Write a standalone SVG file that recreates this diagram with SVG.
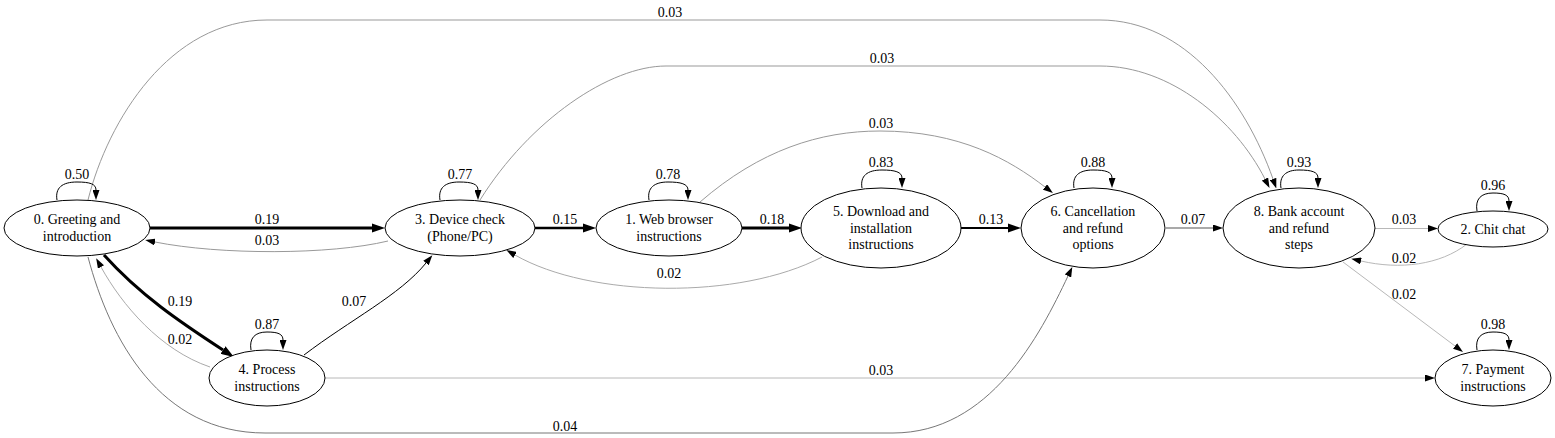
<svg xmlns="http://www.w3.org/2000/svg" width="1555" height="438" viewBox="0 0 1555 438">
<style>
text{font-family:"Liberation Serif","Times New Roman",serif;font-size:14px;fill:#000;text-anchor:middle}
.n ellipse{fill:#fff;stroke:#000;stroke-width:1}
.e{fill:none;stroke:#000;stroke-width:1;marker-end:url(#a)}
.t{marker-end:url(#ab)}
.w19{stroke-width:3}
.w18{stroke-width:2.8}
.w15{stroke-width:2.5}
.w13{stroke-width:2.2}
.g7{stroke:#555;stroke-width:1.2}
.g4{stroke:#777}
.g3{stroke:#999}
.g2{stroke:#aaa}
.l3{stroke:#b8b8b8}
</style>
<defs>
<marker id="a" markerUnits="userSpaceOnUse" viewBox="0 0 10 7" markerWidth="10" markerHeight="7" refX="0" refY="3.5" orient="auto"><path d="M0,0L10,3.5L0,7z" fill="#000"/></marker>
<marker id="ab" markerUnits="userSpaceOnUse" viewBox="0 0 10 7" markerWidth="13" markerHeight="9.1" refX="0" refY="3.5" orient="auto"><path d="M0,0L10,3.5L0,7z" fill="#000"/></marker>
</defs>
<rect width="1555" height="438" fill="#fff"/>
<g id="connectors">
<path class="e g3" d="M88,200 C108,120 170,20 267,20 L1100,20 C1185,20 1245,100 1273,179"/>
<text x="670" y="17">0.03</text>
<path class="e g3" d="M480,200 C530,120 610,66 666,66 L1100,66 C1170,66 1235,120 1265,179"/>
<text x="882" y="63">0.03</text>
<path class="e g3" d="M700,202 C760,150 820,131 880,131 C960,131 1010,160 1045,187"/>
<text x="881" y="128">0.03</text>
<path class="e t w19" d="M150,228 L372,228"/>
<text x="267" y="224">0.19</text>
<path class="e g3" d="M388,241 C330,255 220,255 155,242"/>
<text x="267" y="245">0.03</text>
<path class="e t w15" d="M534,228 L583,228"/>
<text x="565" y="224">0.15</text>
<path class="e t w18" d="M742,228 L789,228"/>
<text x="772" y="224">0.18</text>
<path class="e t w13" d="M961,228 L1008,228"/>
<text x="991" y="224">0.13</text>
<path class="e g7" d="M1166,228 L1213,228"/>
<text x="1193" y="224">0.07</text>
<path class="e l3" d="M1375,228.5 L1428,228.5"/>
<text x="1404" y="224">0.03</text>
<path class="e l3" d="M1467,244 C1440,265 1400,270 1361,261"/>
<text x="1404" y="263">0.02</text>
<path class="e l3" d="M1343,262 L1455,346"/>
<text x="1404" y="299">0.02</text>
<path class="e l3" d="M325,378 L1425,378"/>
<text x="881" y="375">0.03</text>
<path class="e g4" d="M88,257 C110,340 160,433 265,433 L893,433 C990,433 1040,335 1068,276"/>
<text x="565" y="431">0.04</text>
<path class="e t w19" d="M104,255 C140,295 180,322 223,350"/>
<text x="180" y="306">0.19</text>
<path class="e g2" d="M210,367 C160,350 122,305 101,267"/>
<text x="180" y="344">0.02</text>
<path class="e" d="M304,355 C350,320 400,295 426,263"/>
<text x="354" y="306">0.07</text>
<path class="e g2" d="M822,257 C740,300 590,298 515,255"/>
<text x="669" y="278">0.02</text>
<path class="e" d="M57,200 C55,188 62,182 77,182 C90,182 96,184 96,190"/>
<text x="77" y="179">0.50</text>
<path class="e" d="M440,200 C438,188 445,182 459,182 C472,182 478,184 478,190"/>
<text x="460" y="179">0.77</text>
<path class="e" d="M649,200 C647,188 654,182 668,182 C681,182 688,184 688,190"/>
<text x="668" y="179">0.78</text>
<path class="e" d="M862,188 C860,176 867,170 882,170 C895,170 902,172 902,178"/>
<text x="881" y="167">0.83</text>
<path class="e" d="M1074,188 C1072,176 1079,170 1093,170 C1106,170 1112,172 1112,178"/>
<text x="1093" y="167">0.88</text>
<path class="e" d="M1281,188 C1279,176 1286,170 1299,170 C1312,170 1318,172 1318,178"/>
<text x="1299" y="167">0.93</text>
<path class="e" d="M1477,211 C1475,199 1481,193 1493,193 C1504,193 1509,195 1509,201"/>
<text x="1493" y="190">0.96</text>
<path class="e" d="M1477,350 C1475,338 1481,332 1493,332 C1504,332 1509,334 1509,340"/>
<text x="1493" y="329">0.98</text>
<path class="e" d="M251,350 C249,338 255,332 267,332 C278,332 283,334 283,340"/>
<text x="267" y="329">0.87</text>
</g>
<g id="node0" class="n"><ellipse cx="77" cy="228" rx="73" ry="28"/><text x="77" y="224">0. Greeting and</text><text x="77" y="241">introduction</text></g>
<g id="node3" class="n"><ellipse cx="460" cy="228" rx="75" ry="28"/><text x="460" y="224">3. Device check</text><text x="460" y="241">(Phone/PC)</text></g>
<g id="node1" class="n"><ellipse cx="669" cy="228" rx="73" ry="28"/><text x="669" y="224">1. Web browser</text><text x="669" y="241">instructions</text></g>
<g id="node5" class="n"><ellipse cx="881" cy="228" rx="80" ry="40"/><text x="881" y="216">5. Download and</text><text x="881" y="232.5">installation</text><text x="881" y="249">instructions</text></g>
<g id="node6" class="n"><ellipse cx="1093" cy="228" rx="72" ry="40"/><text x="1093" y="216">6. Cancellation</text><text x="1093" y="232.5">and refund</text><text x="1093" y="249">options</text></g>
<g id="node8" class="n"><ellipse cx="1299" cy="228" rx="76" ry="40"/><text x="1299" y="216">8. Bank account</text><text x="1299" y="232.5">and refund</text><text x="1299" y="249">steps</text></g>
<g id="node2" class="n"><ellipse cx="1493" cy="229" rx="55" ry="18"/><text x="1493" y="234">2. Chit chat</text></g>
<g id="node7" class="n"><ellipse cx="1493" cy="378" rx="58" ry="28"/><text x="1493" y="374">7. Payment</text><text x="1493" y="391">instructions</text></g>
<g id="node4" class="n"><ellipse cx="267" cy="378" rx="58" ry="28"/><text x="267" y="374">4. Process</text><text x="267" y="391">instructions</text></g>
</svg>
